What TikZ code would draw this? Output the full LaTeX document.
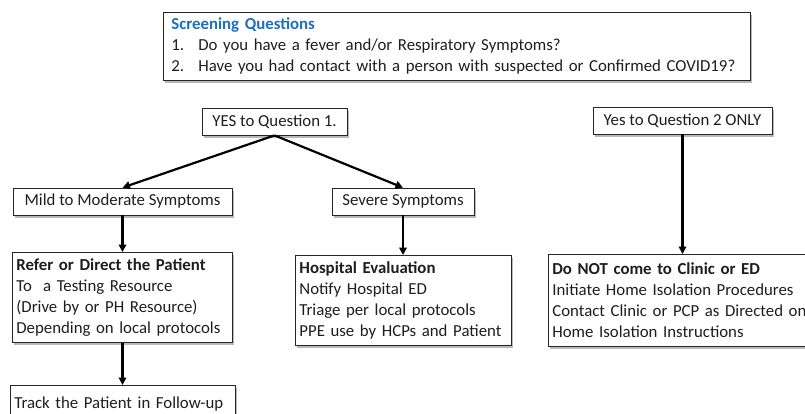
\documentclass[tikz,border=0pt]{standalone}
\usepackage{fontspec}
\setmainfont{Carlito}
\usetikzlibrary{shadows,arrows.meta}
\definecolor{scrblue}{RGB}{30,112,192}
\definecolor{txt}{RGB}{30,30,30}
\begin{document}
\begin{tikzpicture}[x=1pt,y=-1pt,
  box/.style={draw=black!85, line width=0.8pt, fill=white,
    drop shadow={shadow xshift=2pt,shadow yshift=-2.5pt,fill=black!50,opacity=0.55},
    inner xsep=7pt, inner ysep=3pt, text=txt,
    font=\fontsize{16.8}{21}\selectfont},
  onebox/.style={box, minimum height=27pt, align=center},
  multibox/.style={box, anchor=north west, align=left, inner xsep=4pt},
  conn/.style={line width=2.2pt, draw=black, -{Triangle[length=7.5pt,width=7.5pt]}}
]
\useasboundingbox[fill=white] (0,0) rectangle (805,413);

\node[multibox, inner xsep=8pt, minimum width=587pt, minimum height=68pt, text width=571pt] (scr) at (163,12)
  {{\bfseries\color{scrblue}Screening Questions}\\
   \makebox[27pt][l]{1.}Do you have a fever and/or Respiratory Symptoms?\\
   \makebox[27pt][l]{2.}Have you had contact with a person with suspected or Confirmed COVID19?};

\node[onebox, minimum width=145pt] (yes1) at (274.5,121.5) {YES to Question 1.};
\node[onebox, minimum width=219pt] (mild) at (122.5,201.5) {Mild to Moderate Symptoms};
\node[onebox, minimum width=142pt] (severe) at (403,201.5) {Severe Symptoms};
\node[onebox, minimum width=179pt] (yes2) at (682.5,120.5) {Yes to Question 2 ONLY};

\node[multibox, text width=212pt, minimum height=90pt] (refer) at (12,252)
  {\textbf{Refer or Direct the Patient}\\
   To\ \ a Testing Resource\\
   (Drive by or PH Resource)\\
   Depending on local protocols};

\node[multibox, text width=208pt, minimum height=90pt] (hosp) at (295,255)
  {\textbf{Hospital Evaluation}\\
   Notify Hospital ED\\
   Triage per local protocols\\
   PPE use by HCPs and Patient};

\node[multibox, text width=280pt, minimum height=92pt] (donot) at (548,254)
  {\textbf{Do NOT come to Clinic or ED}\\
   Initiate Home Isolation Procedures\\
   Contact Clinic or PCP as Directed on\\
   Home Isolation Instructions};

\node[multibox, text width=217pt, minimum height=40pt] (track) at (10,385)
  {\raisebox{5pt}{Track the Patient in Follow-up}};

\draw[conn] (yes1.south) -- (mild.north);
\draw[conn] (yes1.south) -- (severe.north);
\draw[conn] (mild.south) -- (refer.north -| mild.south);
\draw[conn] (severe.south) -- (hosp.north -| severe.south);
\draw[conn] (refer.south -| mild.south) -- (track.north -| mild.south);
\draw[conn] (yes2.south) -- (donot.north -| yes2.south);
\end{tikzpicture}
\end{document}
